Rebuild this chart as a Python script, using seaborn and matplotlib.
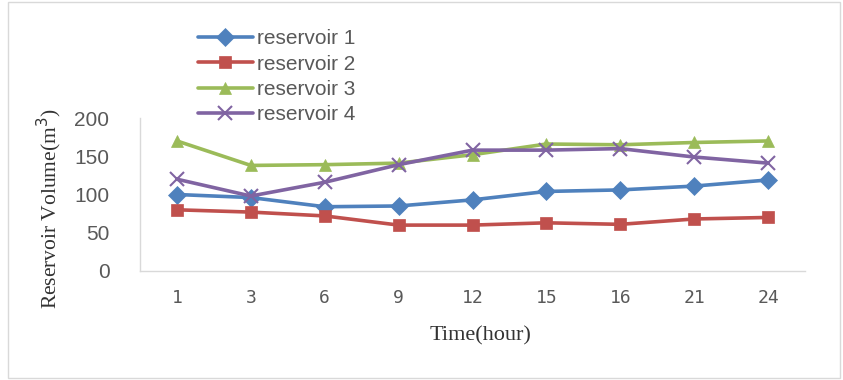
import pandas as pd
import numpy as np
import matplotlib.pyplot as plt
import seaborn as sns
from matplotlib.patches import Rectangle

sns.set_theme(style="white")
plt.rcParams['font.family'] = ['Liberation Sans', 'DejaVu Sans']

# Data
hours = ["1", "3", "6", "9", "12", "15", "16", "21", "24"]
reservoir_1 = [100, 96, 84, 85, 93, 104, 106, 111, 119]
reservoir_2 = [80, 77, 72, 60, 60, 63, 61, 68, 70]
reservoir_3 = [170, 138, 139, 141, 152, 166, 165, 168, 170]
reservoir_4 = [120, 98, 116, 139, 158, 158, 160, 149, 141]
names = ["reservoir 1", "reservoir 2", "reservoir 3", "reservoir 4"]

df = pd.DataFrame({
    "hour": hours * 4,
    "volume": reservoir_1 + reservoir_2 + reservoir_3 + reservoir_4,
    "series": np.repeat(names, len(hours)),
})

colors = ["#4F81BD", "#C0504D", "#9BBB59", "#8064A2"]
markers = ["D", "s", "^", "x"]

fig = plt.figure(figsize=(8.43, 3.80), dpi=100)
ax = fig.add_axes([140 / 843, 1 - 271 / 380, 665 / 843, 153 / 380])

for name, col, mk in zip(names, colors, markers):
    sub = df[df["series"] == name]
    sns.pointplot(data=sub, x="hour", y="volume", order=hours, color=col,
                  marker=mk, markersize=9 if mk != "x" else 10,
                  markeredgewidth=1.5 if mk == "x" else 0.5,
                  linewidth=2.6, label=name, ax=ax, errorbar=None)

ax.set_ylim(0, 200)
ax.set_yticks([0, 50, 100, 150, 200])
ax.set_xlim(-0.5, len(hours) - 0.5)
for side in ["top", "right"]:
    ax.spines[side].set_visible(False)
for side in ["left", "bottom"]:
    ax.spines[side].set_color("#d9d9d9")
    ax.spines[side].set_linewidth(1)
ax.tick_params(axis="y", labelsize=15, colors="#595959", length=0, pad=22)
ax.tick_params(axis="x", labelsize=13, colors="#595959", length=0, pad=13)
for lbl in ax.get_xticklabels():
    lbl.set_family(["DejaVu Sans Mono"])

ax.set_xlabel("Time(hour)", family="Liberation Serif", fontsize=16, color="#333333")
ax.set_ylabel("Reservoir Volume(m$^{3}$)", family="Liberation Serif", fontsize=15.5,
              color="#333333")
ax.xaxis.set_label_coords(0.512, -0.36)
ax.yaxis.set_label_coords(-0.114, 0.41)

leg = ax.legend(loc="upper left", bbox_to_anchor=(190 / 843, 1 - 21 / 380),
                bbox_transform=fig.transFigure, frameon=False, fontsize=15,
                handlelength=2.6, labelspacing=0.3, handletextpad=0.2,
                borderaxespad=0)
for t in leg.get_texts():
    t.set_color("#595959")

fig.patches.append(Rectangle((8 / 843, 0.004), 832 / 843, 0.99, transform=fig.transFigure,
                             fill=False, edgecolor="#d9d9d9", linewidth=1))

fig.savefig("out.png", dpi=100)
